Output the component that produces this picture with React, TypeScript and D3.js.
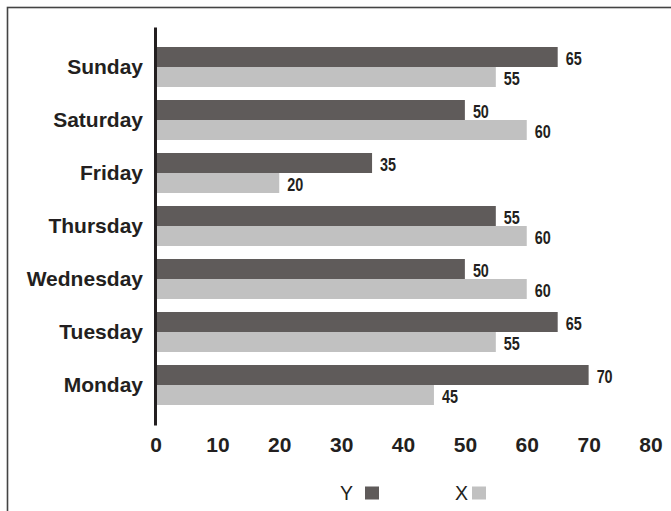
import React, { useEffect, useRef } from 'react';
import * as d3 from 'd3';

const days = ['Sunday', 'Saturday', 'Friday', 'Thursday', 'Wednesday', 'Tuesday', 'Monday'];
const seriesNames = ['Y', 'X'];
const valuesY = [65, 50, 35, 55, 50, 65, 70];
const valuesX = [55, 60, 20, 60, 60, 55, 45];
const xTicks = [0, 10, 20, 30, 40, 50, 60, 70, 80];

const colors: Record<string, string> = { Y: '#5f5b5a', X: '#c1c1c1' };
const textColor = '#231f20';

const W = 671;
const H = 511;

const App: React.FC = () => {
  const ref = useRef<SVGSVGElement | null>(null);

  useEffect(() => {
    const svg = d3.select(ref.current);
    svg.selectAll('*').remove();

    // frame (right and bottom edges run off the picture)
    svg.append('rect')
      .attr('x', 7.5)
      .attr('y', 7.5)
      .attr('width', 700)
      .attr('height', 600)
      .attr('fill', 'none')
      .attr('stroke', '#444')
      .attr('stroke-width', 1.6);

    const x = d3.scaleLinear().domain([0, 80]).range([155.5, 650.5]);

    const y = d3.scaleBand<string>()
      .domain(days)
      .range([27, 425])
      .paddingInner(13 / 53)
      .paddingOuter(0.3774);

    const inner = d3.scaleBand<string>()
      .domain(seriesNames)
      .range([0, y.bandwidth()]);

    const rows = days.map((day, i) => ({ day, Y: valuesY[i], X: valuesX[i] }));

    const groups = svg.append('g')
      .selectAll('g')
      .data(rows)
      .enter()
      .append('g')
      .attr('transform', (d) => `translate(0,${y(d.day)})`);

    groups.selectAll('rect')
      .data((d) => seriesNames.map((s) => ({ s, v: (d as any)[s] as number })))
      .enter()
      .append('rect')
      .attr('x', x(0))
      .attr('y', (d) => inner(d.s)!)
      .attr('width', (d) => x(d.v) - x(0))
      .attr('height', inner.bandwidth())
      .attr('fill', (d) => colors[d.s]);

    // value labels in a squeezed bold face, like the narrow font of the original
    groups.selectAll('text')
      .data((d) => seriesNames.map((s) => ({ s, v: (d as any)[s] as number })))
      .enter()
      .append('text')
      .attr('transform', (d) =>
        `translate(${x(d.v) + 8},${inner(d.s)! + inner.bandwidth() / 2 + 2}) scale(0.8,1)`)
      .attr('dy', '0.36em')
      .attr('fill', textColor)
      .style('font-family', '"Liberation Sans", Arial, sans-serif')
      .style('font-weight', 'bold')
      .style('font-size', '18px')
      .text((d) => d.v);

    // category axis
    const yAxis = svg.append('g')
      .attr('transform', `translate(${x(0) - 0.5},0)`)
      .call(d3.axisLeft(y).tickSize(0).tickSizeOuter(0).tickPadding(12));
    yAxis.select('.domain')
      .attr('stroke', textColor)
      .attr('stroke-width', 3);
    yAxis.selectAll('text')
      .attr('fill', textColor)
      .style('font-family', '"Liberation Sans", Arial, sans-serif')
      .style('font-weight', 'bold')
      .style('font-size', '21px');

    // value axis
    const xAxis = svg.append('g')
      .attr('transform', 'translate(0,425)')
      .call(d3.axisBottom(x).tickValues(xTicks).tickSize(0).tickPadding(12));
    xAxis.select('.domain').remove();
    xAxis.selectAll('text')
      .attr('fill', textColor)
      .style('font-family', '"Liberation Sans", Arial, sans-serif')
      .style('font-weight', 'bold')
      .style('font-size', '21px');

    // legend
    const legendX = [340, 455];
    const legend = svg.append('g')
      .selectAll('g')
      .data(seriesNames)
      .enter()
      .append('g')
      .attr('transform', (_, i) => `translate(${legendX[i]},0)`);
    legend.append('text')
      .attr('x', 0)
      .attr('y', 500)
      .attr('fill', textColor)
      .style('font-family', '"Liberation Sans", Arial, sans-serif')
      .style('font-size', '19.5px')
      .text((d) => d);
    legend.append('rect')
      .attr('x', (_, i) => (i === 0 ? 25 : 17))
      .attr('y', 486.5)
      .attr('width', 14)
      .attr('height', 13)
      .attr('fill', (d) => colors[d]);
  }, []);

  return (
    <svg
      ref={ref}
      width={W}
      height={H}
      style={{ position: 'absolute', left: 0, top: 0, background: '#fff' }}
    />
  );
};

export default App;
